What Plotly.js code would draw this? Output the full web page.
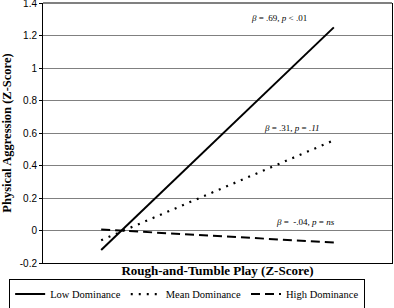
<!DOCTYPE html>
<html>
<head>
<meta charset="utf-8">
<script src="https://cdn.plot.ly/plotly-3.0.1.min.js"></script>
<style>html,body{margin:0;padding:0;background:#fff;}#chart{width:394px;height:308px;}</style>
</head>
<body>
<div id="chart"></div>
<script>
const xLevels = [-1, 1];
const lowDominance = [-0.12, 1.25];
const meanDominance = [-0.06, 0.555];
const highDominance = [0.006, -0.074];
const seriesNames = ['Low Dominance', 'Mean Dominance', 'High Dominance'];
const yTicks = [-0.2, 0, 0.2, 0.4, 0.6, 0.8, 1, 1.2, 1.4];
const yTickLabels = ['-0.2', '0', '0.2', '0.4', '0.6', '0.8', '1', '1.2', '1.4'];
const statLabels = [
  '<i>β</i> = .69, <i>p</i> &lt; .01',
  '<i>β</i> = .31, <i>p</i> = <i>.11</i>',
  '<i>β</i> =  -.04, <i>p</i> = <i>ns</i>'
];
const statX = [0.53, 0.64, 0.76];
const statY = [1.31, 0.63, 0.05];

const serif = 'Liberation Serif, Times New Roman, serif';
const sans = 'Liberation Sans, Arial, sans-serif';

const traces = [
  {x: xLevels, y: lowDominance, name: seriesNames[0], mode: 'lines', line: {color: '#000', width: 2, dash: 'solid'}},
  {x: xLevels, y: meanDominance, name: seriesNames[1], mode: 'lines', line: {color: '#000', width: 2.2, dash: '2px,6px'}},
  {x: xLevels, y: highDominance, name: seriesNames[2], mode: 'lines', line: {color: '#000', width: 2, dash: '9px,5px'}}
];

const annotations = statLabels.map((t, i) => ({
  x: statX[i], y: statY[i], xref: 'x', yref: 'y', text: t, showarrow: false,
  font: {family: serif, size: 9, color: '#000'}
}));

const layout = {
  width: 394, height: 308,
  margin: {l: 43, r: 2, t: 3, b: 45, autoexpand: false},
  paper_bgcolor: '#fff', plot_bgcolor: '#fff',
  showlegend: true,
  legend: {
    orientation: 'h', xref: 'paper', x: -0.097, xanchor: 'left',
    yref: 'paper', y: -0.06, yanchor: 'top',
    bordercolor: '#000', borderwidth: 1, font: {family: serif, size: 10.5, color: '#000'},
    tracegroupgap: 0, itemwidth: 30
  },
  xaxis: {
    range: [-1.5, 1.5], showgrid: false, zeroline: false, showticklabels: false, ticks: '',
    showline: true, linecolor: '#000', linewidth: 1, automargin: false,
    title: {text: '<b>Rough-and-Tumble Play (Z-Score)</b>', font: {family: serif, size: 13, color: '#000'}, standoff: 2}
  },
  yaxis: {
    range: [-0.2, 1.4001], tickvals: yTicks, ticktext: yTickLabels, automargin: false,
    showgrid: true, gridcolor: '#808080', gridwidth: 1, zeroline: false,
    showline: true, linecolor: '#000', linewidth: 1, mirror: true,
    ticks: 'outside', ticklen: 3, tickcolor: '#000', ticklabeloverflow: 'allow',
    tickfont: {family: sans, size: 10, color: '#000'},
    title: {text: '<b>Physical Aggression (Z-Score)</b>', font: {family: serif, size: 12.5, color: '#000'}, standoff: 5}
  },
  shapes: [{type: 'line', xref: 'paper', yref: 'paper', x0: 0, x1: 1, y0: 1, y1: 1, line: {color: '#808080', width: 2}}],
  annotations: annotations
};

Plotly.newPlot('chart', traces, layout, {displayModeBar: false, staticPlot: true});
</script>
</body>
</html>
